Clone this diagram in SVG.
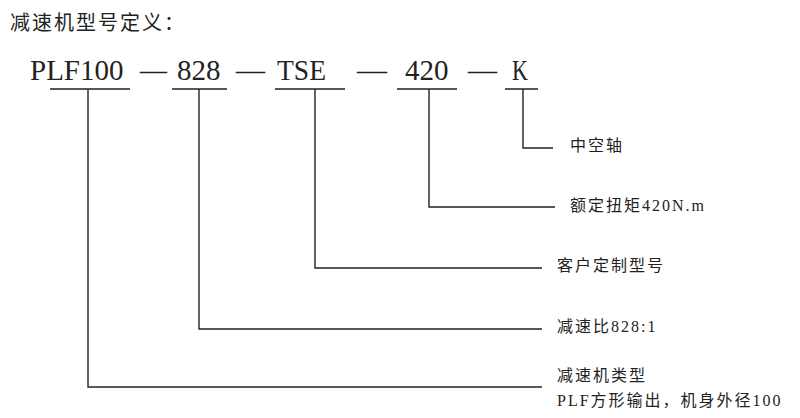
<svg xmlns="http://www.w3.org/2000/svg" width="800" height="418" viewBox="0 0 800 418">
<style>
.t{font-family:"Liberation Serif","Noto Sans CJK SC",serif;fill:#222}
.title{font-size:20px;letter-spacing:2px}
.code{font-size:29px}
.lab{font-size:16px;letter-spacing:2px}
.ln{stroke:#222;stroke-width:1.4;fill:none}
</style>
<rect width="800" height="418" fill="#fff"/>
<text id="title" class="t title" x="10" y="30">减速机型号定义：</text>
<g id="code">
<text class="t code" x="30" y="80">PLF100</text>
<text class="t code" x="140" y="80" textLength="27" lengthAdjust="spacingAndGlyphs">—</text>
<text class="t code" x="177" y="80">828</text>
<text class="t code" x="236" y="80" textLength="29" lengthAdjust="spacingAndGlyphs">—</text>
<text class="t code" x="277" y="80" textLength="49" lengthAdjust="spacingAndGlyphs">TSE</text>
<text class="t code" x="357" y="80" textLength="30" lengthAdjust="spacingAndGlyphs">—</text>
<text class="t code" x="405" y="80">420</text>
<text class="t code" x="468" y="80" textLength="29" lengthAdjust="spacingAndGlyphs">—</text>
<text class="t code" x="512" y="80" textLength="16" lengthAdjust="spacingAndGlyphs">K</text>
</g>
<g id="connectors" class="ln">
<path d="M50 89H130M88 89V387H542"/>
<path d="M172 89H227M199 89V329H542"/>
<path d="M275 89H345M315 89V268H542"/>
<path d="M397 89H457M429 89V207H555"/>
<path d="M505 89H538M523 89V148H553"/>
</g>
<g id="n-k"><text class="t lab" x="570" y="151">中空轴</text></g>
<g id="n-420"><text class="t lab" x="570" y="211">额定扭矩420N.m</text></g>
<g id="n-tse"><text class="t lab" x="557" y="271">客户定制型号</text></g>
<g id="n-828"><text class="t lab" x="557" y="332">减速比828:1</text></g>
<g id="n-plf">
<text class="t lab" x="557" y="381">减速机类型</text>
<text class="t lab" x="557" y="406">PLF方形输出，机身外径100</text>
</g>
</svg>
